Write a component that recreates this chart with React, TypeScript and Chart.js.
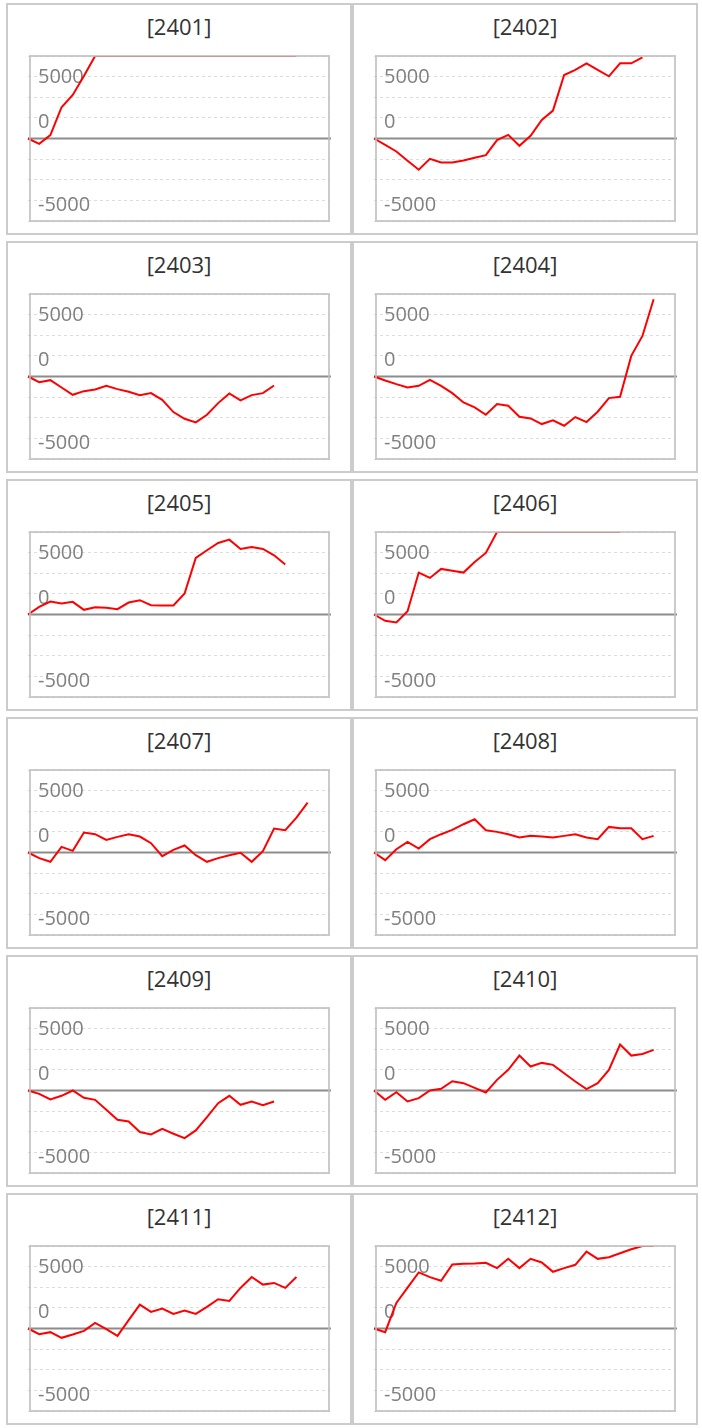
import React, { useEffect, useRef } from "react";
import { Chart, registerables } from "chart.js";

Chart.register(...registerables);

// ---- data -------------------------------------------------------------
const TITLES = ["[2401]", "[2402]", "[2403]", "[2404]", "[2405]", "[2406]", "[2407]", "[2408]", "[2409]", "[2410]", "[2411]", "[2412]"];

const P2401 = [0, -430, 270, 2527, 3521, 5050, 6667, 6667, 6667, 6667, 6667, 6667, 6667, 6667, 6667, 6667, 6667, 6667, 6667, 6667, 6667, 6667, 6667, 6667, 6667];
const P2402 = [0, -511, -1048, -1801, -2527, -1640, -1935, -1935, -1774, -1559, -1344, -134, 296, -591, 215, 1505, 2258, 5134, 5537, 6075, 5537, 5026, 6075, 6075, 6559];
const P2403 = [0, -457, -296, -887, -1478, -1183, -1048, -753, -1021, -1236, -1505, -1344, -1882, -2876, -3414, -3709, -3091, -2150, -1371, -1935, -1505, -1344, -726];
const P2404 = [0, -323, -618, -887, -753, -269, -753, -1344, -2097, -2500, -3091, -2231, -2365, -3252, -3387, -3844, -3548, -3978, -3279, -3683, -2849, -1747, -1640, 1667, 3279, 6236];
const P2405 = [0, 618, 1048, 887, 1021, 376, 591, 538, 430, 968, 1156, 753, 726, 726, 1693, 4570, 5188, 5779, 6048, 5295, 5457, 5295, 4785, 4032];
const P2406 = [0, -511, -645, 269, 3387, 2957, 3683, 3535, 3387, 4247, 4973, 6667, 6667, 6667, 6667, 6667, 6667, 6667, 6667, 6667, 6667, 6667, 6667];
const P2407 = [0, -457, -753, 457, 134, 1613, 1478, 1021, 1263, 1478, 1290, 753, -296, 215, 564, -215, -753, -457, -215, -27, -753, 108, 1935, 1801, 2822, 4032];
const P2408 = [0, -618, 269, 860, 323, 1075, 1478, 1828, 2285, 2688, 1801, 1667, 1478, 1210, 1344, 1290, 1210, 1344, 1478, 1210, 1075, 2070, 1962, 1962, 1075, 1344];
const P2409 = [0, -269, -726, -430, 0, -591, -753, -1559, -2365, -2500, -3360, -3548, -3091, -3494, -3844, -3226, -2150, -1021, -430, -1156, -887, -1183, -887];
const P2410 = [0, -753, -134, -887, -618, 0, 134, 753, 591, 215, -161, 860, 1667, 2822, 1935, 2231, 2070, 1398, 726, 108, 591, 1667, 3710, 2822, 2957, 3279];
const P2411 = [0, -457, -296, -753, -484, -188, 457, -54, -591, 672, 1935, 1344, 1613, 1183, 1452, 1183, 1747, 2365, 2231, 3279, 4166, 3548, 3683, 3279, 4166];
const P2412 = [0, -295, 2063, 3300, 4530, 4154, 3860, 5172, 5225, 5250, 5306, 4878, 5628, 4878, 5628, 5333, 4583, 4878, 5145, 6218, 5628, 5762, 6084, 6406, 6667, 6667];

const SERIES = [P2401, P2402, P2403, P2404, P2405, P2406, P2407, P2408, P2409, P2410, P2411, P2412];

const Y_STEP = 5000 / 3;
const GRID_STEPS = [-4, -3, -2, -1, 0, 1, 2, 3, 4];
const Y_LABELS = ["5000", "0", "-5000"];
const Y_LABEL_VALUES = [5000, 0, -5000];
const Y_LABEL_SHIFT = [1, -16, 5];
const X_SLOTS = 27;

// ---- layout constants -------------------------------------------------
const PANEL_W = 346;
const PANEL_H = 232;
const ROW_PITCH = 238;
const CANVAS_W = 342;
const CANVAS_H = 228;

const framePlugin = {
  id: "frame",
  beforeDatasetsDraw(chart: any) {
    const { ctx, chartArea } = chart;
    const y = chart.scales.y;
    const zero = y.getPixelForValue(0);
    ctx.save();
    ctx.strokeStyle = "#8c8c8c";
    ctx.lineWidth = 2;
    ctx.beginPath();
    ctx.moveTo(chartArea.left, zero);
    ctx.lineTo(chartArea.right + 1, zero);
    ctx.stroke();
    ctx.font = '20px "Open Sans"';
    ctx.fillStyle = "#808080";
    ctx.textAlign = "left";
    ctx.textBaseline = "middle";
    Y_LABELS.forEach((t, i) => {
      ctx.fillText(t, chartArea.left + 10, y.getPixelForValue(Y_LABEL_VALUES[i]) + Y_LABEL_SHIFT[i]);
    });
    ctx.restore();
  },
  afterDatasetsDraw(chart: any) {
    const { ctx, chartArea } = chart;
    ctx.save();
    ctx.strokeStyle = "rgba(190,190,190,0.8)";
    ctx.lineWidth = 2;
    ctx.strokeRect(chartArea.left + 2, chartArea.top, chartArea.right - chartArea.left - 3, chartArea.bottom - chartArea.top);
    ctx.restore();
  },
};

function Panel({ title, values, left, top }: { title: string; values: number[]; left: number; top: number }) {
  const ref = useRef<HTMLCanvasElement>(null);
  useEffect(() => {
    const chart = new Chart(ref.current as HTMLCanvasElement, {
      type: "line",
      data: {
        datasets: [
          {
            data: values.map((v, i) => ({ x: i, y: v })),
            borderColor: "#ff0000",
            borderWidth: 2,
            pointRadius: 0,
            tension: 0,
            fill: false,
            clip: { left: 2, top: 0, right: 0, bottom: 0 } as any,
          },
        ],
      },
      options: {
        animation: false,
        responsive: false,
        events: [],
        layout: { padding: { left: 20, right: 20, top: 51, bottom: 12 } },
        plugins: { legend: { display: false }, tooltip: { enabled: false }, title: { display: false } },
        scales: {
          x: { type: "linear", min: 0, max: X_SLOTS, display: false },
          y: {
            type: "linear",
            min: -4 * Y_STEP,
            max: 4 * Y_STEP,
            afterBuildTicks: (scale: any) => {
              scale.ticks = GRID_STEPS.map((k) => ({ value: (k * 5000) / 3 }));
            },
            ticks: { display: false },
            grid: { drawTicks: false, color: "#dcdcdc", lineWidth: 1 },
            border: { display: false, dash: [3, 3] },
          },
        },
      } as any,
      plugins: [framePlugin],
    });
    return () => chart.destroy();
  }, [values]);

  return (
    <div
      style={{
        position: "absolute",
        left,
        top,
        width: PANEL_W,
        height: PANEL_H,
        boxSizing: "border-box",
        border: "2px solid #cccccc",
        background: "#fff",
      }}
    >
      <div
        style={{
          position: "absolute",
          left: 0,
          top: 8,
          width: "100%",
          height: 26,
          lineHeight: "26px",
          textAlign: "center",
          fontFamily: '"Open Sans", sans-serif',
          fontSize: 22,
          color: "#333",
        }}
      >
        {title}
      </div>
      <canvas ref={ref} width={CANVAS_W} height={CANVAS_H} style={{ display: "block", position: "absolute", left: 0, top: 0 }} />
    </div>
  );
}

export default function App() {
  return (
    <div style={{ position: "absolute", left: 6, top: 3, width: PANEL_W * 2, height: ROW_PITCH * 5 + PANEL_H }}>
      {SERIES.map((s, i) => (
        <Panel key={TITLES[i]} title={TITLES[i]} values={s} left={(i % 2) * PANEL_W} top={Math.floor(i / 2) * ROW_PITCH} />
      ))}
    </div>
  );
}
